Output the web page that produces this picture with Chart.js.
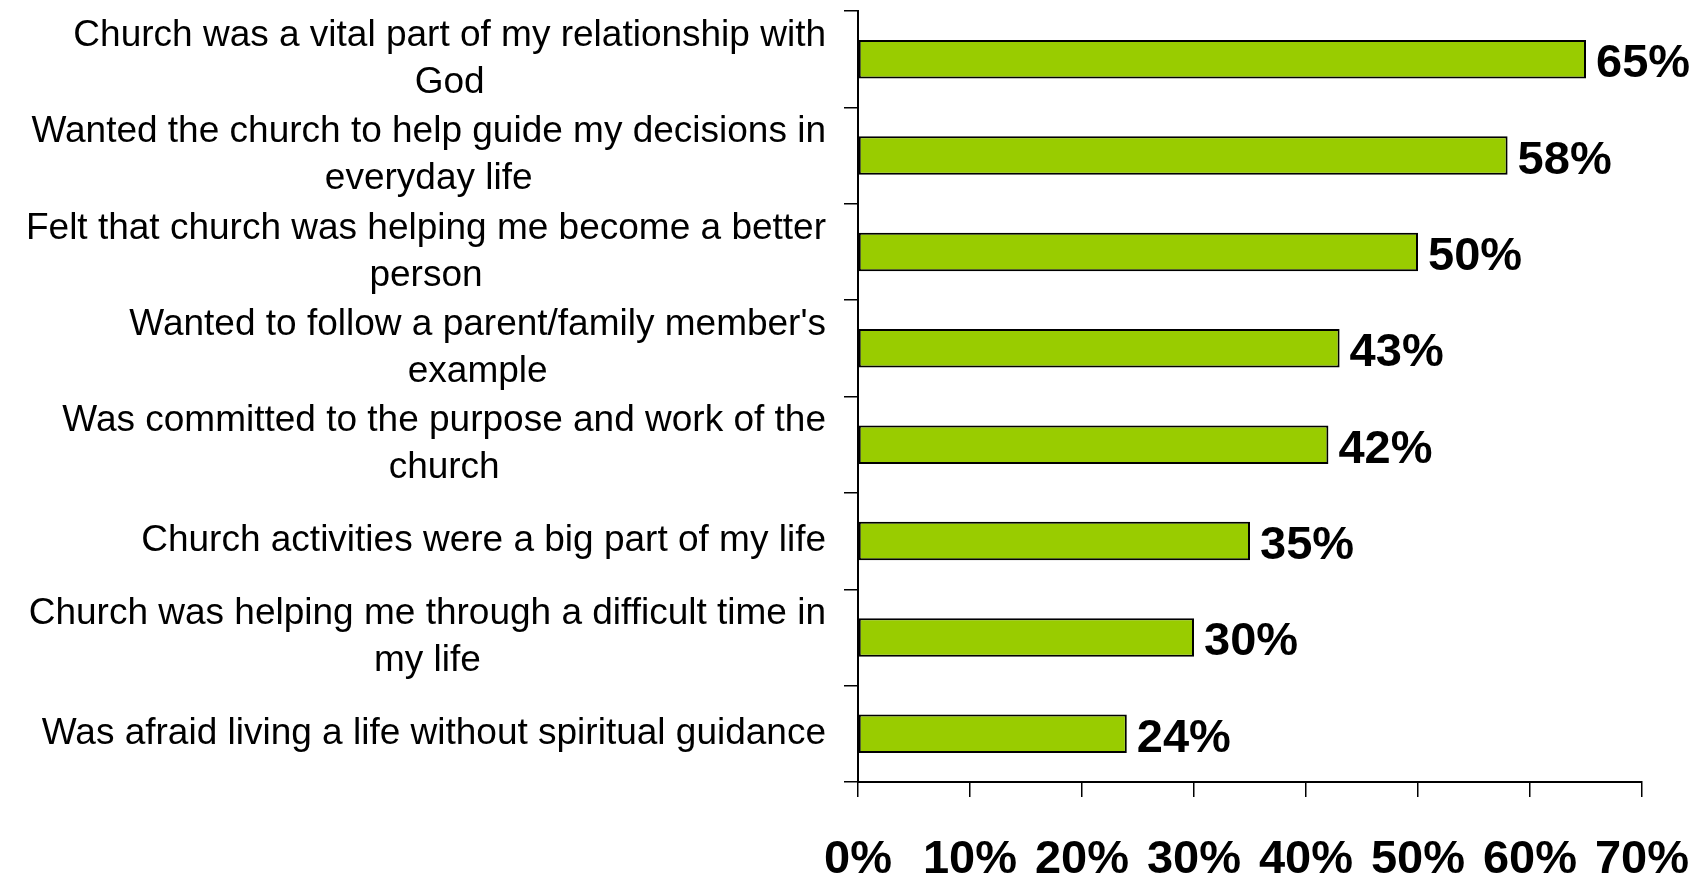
<!DOCTYPE html>
<html>
<head>
<meta charset="utf-8">
<style>
  html, body { margin: 0; padding: 0; background: #fff; }
  #wrap { width: 1703px; height: 876px; }
</style>
<script src="https://cdn.jsdelivr.net/npm/chart.js@4"></script>
</head>
<body>
<div id="wrap"><canvas id="chart" width="1703" height="876"></canvas></div>
<script>
// categories (multi-line labels as arrays)
const categories = [
  ["Church was a vital part of my relationship with", "God"],
  ["Wanted the church to help guide my decisions in", "everyday life"],
  ["Felt that church was helping me become a better", "person"],
  ["Wanted to follow a parent/family member's", "example"],
  ["Was committed to the purpose and work of the", "church"],
  ["Church activities were a big part of my life"],
  ["Church was helping me through a difficult time in", "my life"],
  ["Was afraid living a life without spiritual guidance"]
];
const values = [65, 58, 50, 43, 42, 35, 30, 24];
const xTicks = [0, 10, 20, 30, 40, 50, 60, 70];

const FONT = '"Liberation Sans", Arial, sans-serif';

// подписи категорий: блок выровнен вправо, строки внутри по центру
const yLabelPlugin = {
  id: "yLabels",
  afterDraw(chart) {
    const ctx = chart.ctx;
    const scale = chart.scales.y;
    const right = 826;
    const lh = 47;
    ctx.save();
    ctx.font = "37px " + FONT;
    ctx.fillStyle = "#000";
    ctx.textAlign = "center";
    ctx.textBaseline = "middle";
    categories.forEach((lines, i) => {
      const y = scale.getPixelForTick(i);
      const w = Math.max(...lines.map(l => ctx.measureText(l).width));
      const cx = right - w / 2;
      lines.forEach((l, k) => {
        ctx.fillText(l, cx, y + (k - (lines.length - 1) / 2) * lh);
      });
    });
    ctx.restore();
  }
};

// значения справа от столбцов
const valueLabelPlugin = {
  id: "valueLabels",
  afterDatasetsDraw(chart) {
    const ctx = chart.ctx;
    const meta = chart.getDatasetMeta(0);
    ctx.save();
    ctx.font = "bold 47px " + FONT;
    ctx.fillStyle = "#000";
    ctx.textAlign = "left";
    ctx.textBaseline = "middle";
    meta.data.forEach((bar, i) => {
      ctx.fillText(values[i] + "%", bar.x + 10, bar.y + 5);
    });
    ctx.restore();
  }
};

new Chart(document.getElementById("chart").getContext("2d"), {
  type: "bar",
  data: {
    labels: categories,
    datasets: [{
      data: values,
      backgroundColor: "#99CC00",
      borderColor: "#000",
      borderWidth: 2,
      borderSkipped: false,
      barPercentage: 0.8,
      categoryPercentage: 0.5
    }]
  },
  options: {
    indexAxis: "y",
    responsive: false,
    animation: false,
    layout: { padding: { top: 11, right: 61, left: 0, bottom: 0 } },
    plugins: {
      legend: { display: false },
      tooltip: { enabled: false }
    },
    scales: {
      x: {
        min: 0,
        max: 70,
        afterBuildTicks(scale) {
          scale.ticks = xTicks.map(v => ({ value: v }));
        },
        afterFit(scale) {
          scale.height = 94;
          scale.paddingLeft = 0;
          scale.paddingRight = 0;
        },
        grid: {
          drawOnChartArea: false,
          drawTicks: true,
          tickLength: 15,
          color: "#000",
          lineWidth: 1.5
        },
        border: { display: true, color: "#000", width: 2 },
        ticks: {
          padding: 35,
          maxRotation: 0,
          color: "#000",
          font: { family: FONT, size: 47, weight: "bold" },
          callback: v => v + "%"
        }
      },
      y: {
        afterFit(scale) { scale.width = 858; },
        grid: {
          offset: true,
          drawOnChartArea: false,
          drawTicks: true,
          tickLength: 14,
          color: "#000",
          lineWidth: 1.5
        },
        border: { display: true, color: "#000", width: 2 },
        ticks: { display: false }
      }
    }
  },
  plugins: [yLabelPlugin, valueLabelPlugin]
});
</script>
</body>
</html>
